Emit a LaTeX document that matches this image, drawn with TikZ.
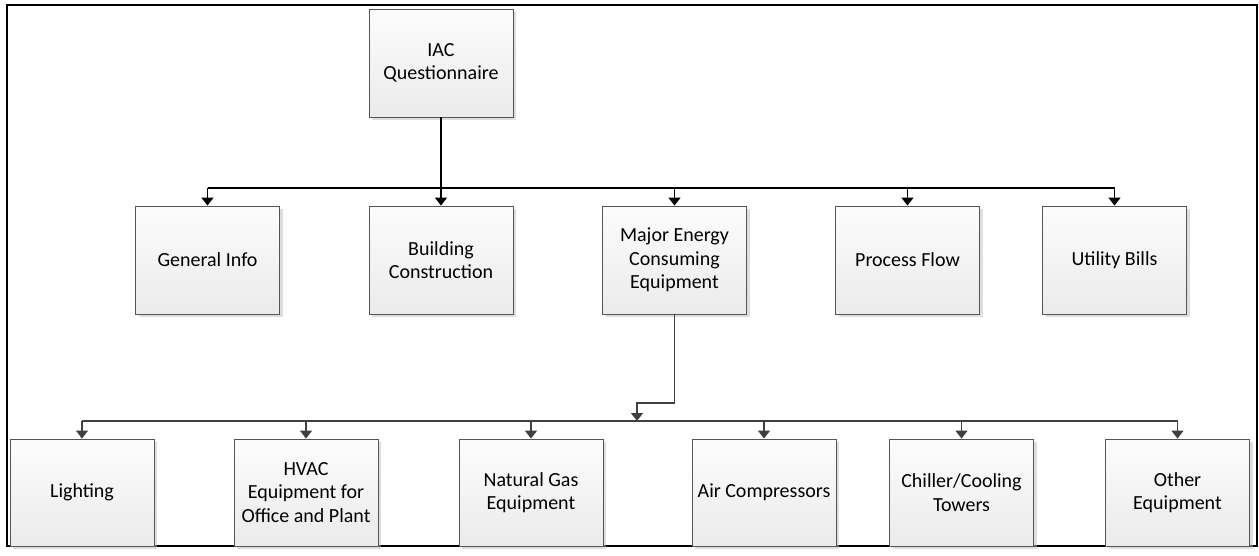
\documentclass[tikz,border=0pt]{standalone}
\usepackage{fontspec}
\setmainfont{Carlito}
\usetikzlibrary{arrows.meta,shadows}
\definecolor{edge}{HTML}{555555}
\definecolor{conn}{HTML}{404040}
\tikzset{
  box/.style={draw=edge, line width=0.9pt, minimum width=144pt, minimum height=108pt,
    inner sep=2pt, align=center, top color=white!99!black, bottom color=white!92!black,
    drop shadow={shadow xshift=3pt, shadow yshift=-3pt, fill=black!25, opacity=0.5},
    font=\fontsize{20}{23.5}\selectfont},
  lineA/.style={draw=black, line width=1.7pt},
  lineB/.style={draw=conn, line width=1.6pt},
  arrA/.style={lineA, -{Triangle[width=12pt,length=8pt]}},
  arrB/.style={lineB, -{Triangle[width=12pt,length=8pt]}},
}
\begin{document}
\begin{tikzpicture}[x=1pt,y=-1pt]
\useasboundingbox (0,0) rectangle (1259,555);
\fill[white] (0,0) rectangle (1259,555);
\draw[line width=2pt] (7,5) rectangle (1257,546);

\node[box] (iac) at (441,63) {IAC\\Questionnaire};
\node[box] (gi) at (207.5,260) {General Info};
\node[box] (bc) at (441,260) {Building\\Construction};
\node[box] (me) at (674.5,260) {Major Energy\\Consuming\\Equipment};
\node[box] (pf) at (907.5,260) {Process Flow};
\node[box] (ub) at (1114.5,260) {Utility Bills};

\node[box, minimum height=107pt] (li) at (82,492.5) {Lighting};
\node[box, minimum height=107pt] (hv) at (306,492.5) {HVAC\\Equipment for\\Office and Plant};
\node[box, minimum height=107pt] (ng) at (531,492.5) {Natural Gas\\Equipment};
\node[box, minimum height=107pt] (ac) at (764,492.5) {Air Compressors};
\node[box, minimum height=107pt] (ch) at (961.5,492.5) {Chiller/Cooling\\Towers};
\node[box, minimum height=107pt] (oe) at (1177.5,492.5) {Other\\Equipment};

% first level
\coordinate (bus1) at (441,188);
\draw[lineA] (gi.north |- bus1) -- (ub.north |- bus1);
\draw[lineA] (iac.south) -- (iac.south |- bus1);
\foreach \n in {gi,bc,me,pf,ub} {
  \draw[arrA] (\n.north |- bus1) -- (\n.north);
}

% second level
\coordinate (bus2) at (637,421);
\coordinate (jog) at (637,403);
\draw[lineB] (li.north |- bus2) -- (oe.north |- bus2);
\draw[arrB] (me.south) -- (me.south |- jog) -- (jog) -- (bus2);
\foreach \n in {li,hv,ng,ac,ch,oe} {
  \draw[arrB] (\n.north |- bus2) -- (\n.north);
}
\end{tikzpicture}
\end{document}
